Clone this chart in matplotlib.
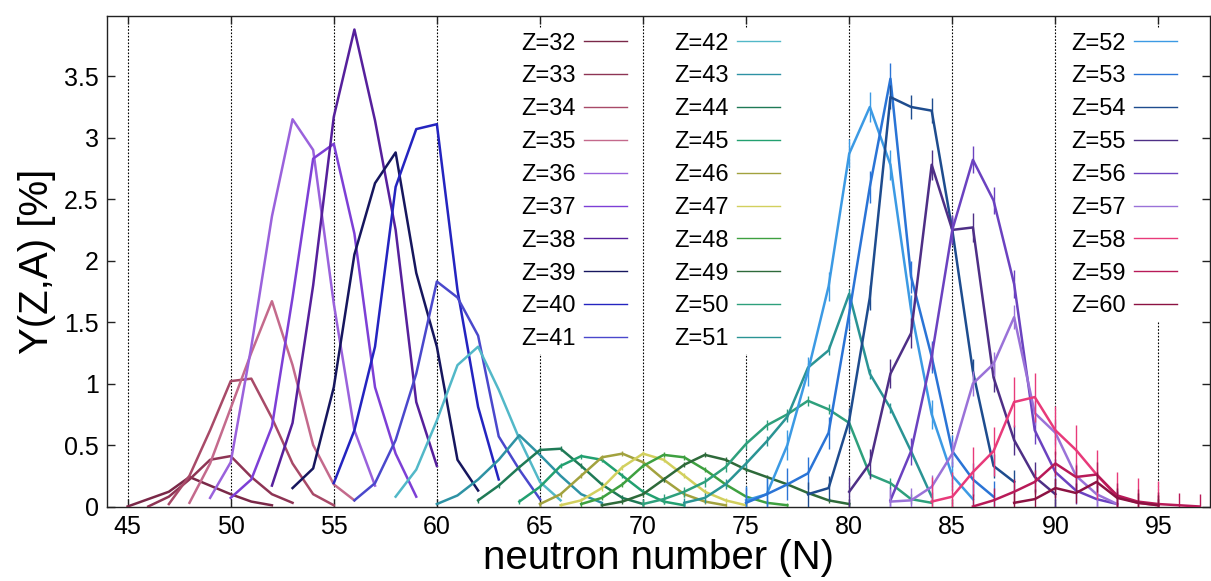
import matplotlib
matplotlib.use("Agg")
import matplotlib.pyplot as plt
from matplotlib.legend import Legend
from matplotlib.ticker import FormatStrFormatter

plt.rcParams['font.family'] = ['Liberation Sans', 'DejaVu Sans']

# proton number of each isotopic chain
z_values = list(range(32, 61))

# first neutron number of each chain
n_first = [45, 46, 47, 48, 49, 50, 52, 53, 55, 56,
           58, 60, 62, 64, 65, 66, 67, 68, 70, 72,
           75, 75, 78, 80, 82, 82, 84, 86, 88]

# yields Y(Z,A) in % at N = n_first, n_first+1, ...
yields = [
    [0.0, 0.06, 0.12, 0.24, 0.17, 0.10, 0.04, 0.01],                       # 32
    [0.0, 0.08, 0.22, 0.38, 0.41, 0.24, 0.10, 0.03],                       # 33
    [0.02, 0.25, 0.62, 1.02, 1.04, 0.72, 0.35, 0.10, 0.01],                # 34
    [0.03, 0.35, 0.80, 1.25, 1.67, 1.15, 0.50, 0.18, 0.05],                # 35
    [0.07, 0.36, 1.30, 2.36, 3.15, 2.90, 1.65, 0.62, 0.17],                # 36
    [0.07, 0.22, 0.65, 1.70, 2.83, 2.95, 2.22, 0.97, 0.43, 0.08],          # 37
    [0.17, 0.68, 1.80, 3.17, 3.88, 3.14, 2.25, 0.85, 0.33],                # 38
    [0.15, 0.31, 0.97, 2.05, 2.63, 2.88, 1.90, 1.30, 0.38, 0.13],          # 39
    [0.19, 0.62, 1.30, 2.60, 3.07, 3.11, 1.76, 0.81, 0.22],                # 40
    [0.05, 0.19, 0.54, 1.08, 1.83, 1.70, 1.39, 0.57, 0.30, 0.06],          # 41
    [0.08, 0.30, 0.70, 1.15, 1.30, 0.95, 0.55, 0.20, 0.05],                # 42
    [0.02, 0.09, 0.22, 0.38, 0.58, 0.42, 0.25, 0.10, 0.03],                # 43
    [0.05, 0.17, 0.32, 0.46, 0.47, 0.33, 0.18, 0.07, 0.02],                # 44
    [0.04, 0.16, 0.33, 0.41, 0.38, 0.25, 0.12, 0.04, 0.01],                # 45
    [0.02, 0.10, 0.25, 0.40, 0.43, 0.36, 0.22, 0.10, 0.04, 0.01],          # 46
    [0.01, 0.05, 0.15, 0.32, 0.43, 0.38, 0.25, 0.12, 0.05, 0.01],          # 47
    [0.02, 0.07, 0.18, 0.33, 0.42, 0.40, 0.30, 0.18, 0.08, 0.03, 0.01],    # 48
    [0.01, 0.04, 0.10, 0.22, 0.34, 0.42, 0.38, 0.30, 0.24, 0.18, 0.11, 0.05, 0.02],  # 49
    [0.02, 0.06, 0.12, 0.20, 0.32, 0.51, 0.66, 0.75, 0.86, 0.79, 0.68, 0.26, 0.19, 0.06, 0.03],  # 50
    [0.03, 0.07, 0.18, 0.35, 0.53, 0.73, 1.13, 1.27, 1.73, 1.08, 0.80, 0.45, 0.08],  # 51
    [0.05, 0.10, 0.50, 1.10, 1.79, 2.87, 3.25, 2.78, 1.60, 0.75, 0.25, 0.06],  # 52
    [0.03, 0.10, 0.18, 0.27, 0.60, 1.57, 2.60, 3.48, 1.87, 1.22, 0.45, 0.22, 0.08],  # 53
    [0.10, 0.15, 0.70, 1.70, 3.33, 3.25, 3.22, 2.25, 1.10, 0.33, 0.20],    # 54
    [0.12, 0.35, 1.08, 1.41, 2.78, 2.25, 2.27, 1.05, 0.54, 0.24, 0.10],    # 55
    [0.05, 0.45, 1.22, 2.25, 2.82, 2.49, 1.81, 0.62, 0.28, 0.13, 0.06, 0.02],  # 56
    [0.04, 0.05, 0.16, 0.43, 1.00, 1.16, 1.54, 0.76, 0.60, 0.25, 0.10, 0.02],  # 57
    [0.04, 0.08, 0.28, 0.45, 0.85, 0.89, 0.62, 0.46, 0.26, 0.08, 0.03, 0.01],  # 58
    [0.0, 0.05, 0.12, 0.20, 0.35, 0.24, 0.26, 0.09, 0.04, 0.02, 0.01, 0.0],    # 59
    [0.03, 0.06, 0.15, 0.11, 0.20, 0.07, 0.03, 0.01],                      # 60
]

# error bar half-height per chain
errors = [0, 0, 0, 0, 0, 0, 0, 0, 0, 0,
          0, 0, 0.02, 0.02, 0.02, 0.02, 0.02, 0.02, 0.04, 0.04,
          0.12, 0.13, 0.1, 0.12, 0.11, 0.1, 0.2, 0.1, 0.08]

colors = ['#7a2848', '#8e3454', '#a84a68', '#c46a8c', '#9a62dc',
          '#7d3fd6', '#56209c', '#16165e', '#2424c0', '#4a48cc',
          '#52b8c8', '#2e92a4', '#1f7a56', '#22a070', '#a2a23e',
          '#d2d05e', '#3ea040', '#2e6a3a', '#2ea07c', '#2a9494',
          '#3c9ae4', '#2a74d6', '#1e4c8e', '#4e2f86', '#6b42c0',
          '#9a72d8', '#e83a7a', '#b81a58', '#8c1242']

fig = plt.figure(figsize=(12.11, 5.81), dpi=100)
ax = fig.add_axes([107 / 1211, 74.5 / 581, 1103 / 1211, 490.5 / 581])

lines = []
for z, n0, ys, col, err in zip(z_values, n_first, yields, colors, errors):
    n = list(range(n0, n0 + len(ys)))
    ln, = ax.plot(n, ys, color=col, lw=1.8, label=f"Z={z}", zorder=3)
    if err > 0:
        ax.errorbar(n, ys, yerr=err, fmt='none', ecolor=col, elinewidth=1.0, capsize=0, zorder=3)
    lines.append(ln)

ax.set_xlim(44, 97.5)
ax.set_ylim(0, 3.99)
ax.set_xticks(range(45, 100, 5))
ax.set_yticks([0, 0.5, 1, 1.5, 2, 2.5, 3, 3.5])
ax.yaxis.set_major_formatter(FormatStrFormatter('%g'))
ax.tick_params(direction='in', top=True, right=True, length=6, width=1,
               labelsize=18, pad=6, color='#222222')
for sp in ax.spines.values():
    sp.set_color('#222222')
    sp.set_linewidth(1.0)
ax.grid(axis='x', color='black', linestyle=(0, (1.5, 1.5)), linewidth=0.8)

ax.set_xlabel('neutron number (N)', fontsize=29, labelpad=0)
ax.set_ylabel('Y(Z,A) [%]', fontsize=29, labelpad=6)

# three legend columns, label first then line sample
for i0, i1, x0 in [(0, 10, 0.3723), (10, 20, 0.5111), (20, 29, 0.871)]:
    hs = lines[i0:i1]
    leg = Legend(ax, hs, [h.get_label() for h in hs], loc='upper left',
                 bbox_to_anchor=(x0, 0.9735), fontsize=17, frameon=True,
                 facecolor='white', edgecolor='none', framealpha=1, fancybox=False,
                 markerfirst=False, handlelength=1.82, handletextpad=0.34,
                 labelspacing=0.46, borderpad=0.15, borderaxespad=0)
    for l in leg.get_lines():
        l.set_linewidth(1.0)
    leg.set_zorder(5)
    ax.add_artist(leg)

fig.savefig('out.png', dpi=100)
